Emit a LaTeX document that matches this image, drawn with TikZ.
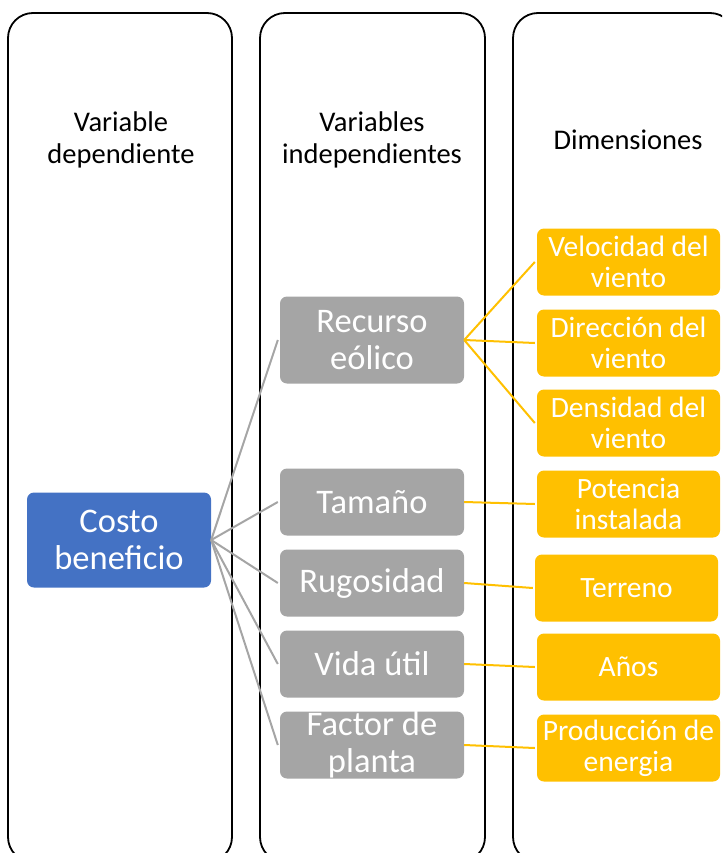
\documentclass[tikz,border=0pt]{standalone}
\usepackage{fontspec}
\setmainfont{Carlito}
\definecolor{varblue}{HTML}{4472C4}
\definecolor{vargray}{HTML}{A5A5A5}
\definecolor{dimgold}{HTML}{FFC000}

\begin{document}
\begin{tikzpicture}[x=1pt, y=-1pt,
        frame/.style={draw=black, line width=1.8pt, rounded corners=25pt},
        header/.style={align=center, font=\fontsize{28.5}{32}\selectfont},
        depbox/.style={fill=varblue, text=white, rounded corners=7pt, minimum width=184pt, minimum height=95pt, inner sep=0pt, align=center, font=\fontsize{34.5}{37}\selectfont},
        indbox/.style={fill=vargray, text=white, rounded corners=7pt, minimum width=184pt, minimum height=67pt, inner sep=0pt, align=center, font=\fontsize{34.5}{37}\selectfont},
        dimbox/.style={fill=dimgold, text=white, rounded corners=7pt, minimum width=183pt, minimum height=67pt, inner sep=0pt, align=center, font=\fontsize{29.5}{31}\selectfont},
        grayline/.style={draw=vargray, line width=2pt},
        goldline/.style={draw=dimgold, line width=2pt}]
    \clip (0,0) rectangle (722,853);
    % columnas
    \draw[frame] (8,13) rectangle (232,862);
    \draw[frame] (260,13) rectangle (485,862);
    \draw[frame] (513,13) rectangle (735,862);
    \node[header] (hdep) at (121,140) {Variable\\dependiente};
    \node[header] (hind) at (372,140) {Variables\\independientes};
    \node[header] (hdim) at (628,140) {Dimensiones};
    % variable dependiente
    \node[depbox] (costo) at (119,540) {Costo\\beneficio};
    % variables independientes
    \node[indbox, minimum height=87pt] (recurso) at (372,340) {Recurso\\eólico};
    \node[indbox] (tamano) at (372,502) {Tamaño};
    \node[indbox] (rugosidad) at (372,583) {Rugosidad};
    \node[indbox] (vida) at (372,664) {Vida útil};
    \node[indbox] (factor) at (372,745) {Factor de\\planta};
    % dimensiones
    \node[dimbox] (velocidad) at (628.5,262) {Velocidad del\\viento};
    \node[dimbox] (direccion) at (628.5,343) {Dirección del\\viento};
    \node[dimbox] (densidad) at (628.5,423) {Densidad del\\viento};
    \node[dimbox] (potencia) at (628.5,504) {Potencia\\instalada};
    \node[dimbox] (terreno) at (626.5,588) {Terreno};
    \node[dimbox] (anos) at (628.5,667) {Años};
    \node[dimbox] (produccion) at (628.5,748) {Producción de\\energia};
    % conectores
    \foreach \v in {recurso, tamano, rugosidad, vida, factor}
        \draw[grayline] (costo.east) -- ([xshift=-2pt]\v.west);
    \foreach \d in {velocidad, direccion, densidad}
        \draw[goldline] (recurso.east) -- ([xshift=-2pt]\d.west);
    \draw[goldline] (tamano.east) -- ([xshift=-2pt]potencia.west);
    \draw[goldline] (rugosidad.east) -- ([xshift=-2pt]terreno.west);
    \draw[goldline] (vida.east) -- ([xshift=-2pt]anos.west);
    \draw[goldline] (factor.east) -- ([xshift=-2pt]produccion.west);
\end{tikzpicture}
\end{document}
